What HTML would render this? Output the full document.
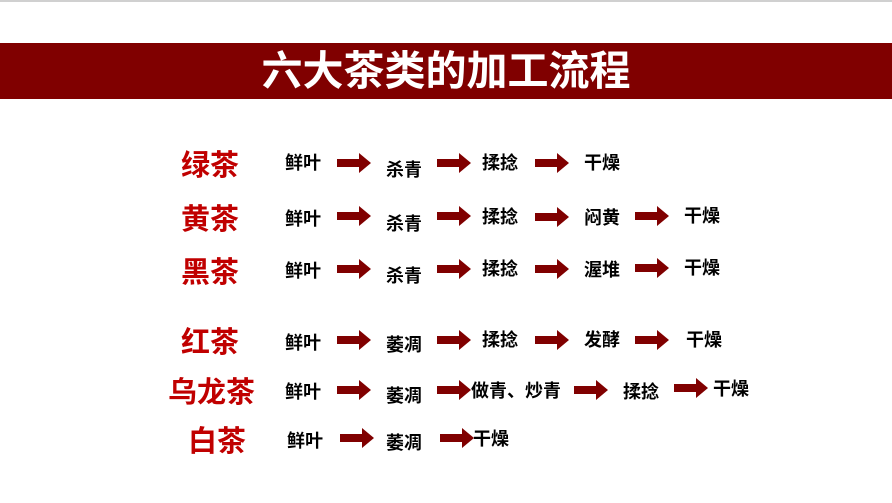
<!DOCTYPE html>
<html><head><meta charset="utf-8"><style>
body{margin:0;width:892px;height:503px;background:#fff;position:relative;overflow:hidden;font-family:"Liberation Sans","Noto Sans CJK SC",sans-serif}
.t{position:absolute;font-size:18px;font-weight:bold;color:#000;line-height:20px;white-space:nowrap}
.h{position:absolute;font-size:29px;font-weight:bold;color:#c00000;line-height:32px;white-space:nowrap}
.a{position:absolute;width:34px;height:20px}
</style></head><body>
<div style="position:absolute;left:0;top:0;width:892px;height:2px;background:#d0d0d0"></div>
<div style="position:absolute;left:0;top:43px;width:892px;height:56px;background:#800000"></div>
<div style="position:absolute;left:0;top:43px;width:892px;height:56px;line-height:56px;text-align:center;color:#fff;font-size:41px;font-weight:bold;letter-spacing:0px;padding-left:insert;box-sizing:border-box">六大茶类的加工流程</div>
<svg width="0" height="0" style="position:absolute"><defs><symbol id="ar" viewBox="0 0 34 20"><polygon points="0,6 22,6 22,0 34,10 22,20 22,14 0,14" fill="#800000"/></symbol></defs></svg>

<div class="h" style="left:181px;top:150px">绿茶</div>
<div class="t" style="left:285px;top:153px">鲜叶</div>
<svg class="a" style="left:337px;top:153px"><use href="#ar"/></svg>
<div class="t" style="left:386px;top:160px">杀青</div>
<svg class="a" style="left:437px;top:153px"><use href="#ar"/></svg>
<div class="t" style="left:482px;top:153px">揉捻</div>
<svg class="a" style="left:535px;top:153px"><use href="#ar"/></svg>
<div class="t" style="left:584px;top:153px">干燥</div>

<div class="h" style="left:181px;top:204px">黄茶</div>
<div class="t" style="left:285px;top:209px">鲜叶</div>
<svg class="a" style="left:337px;top:206px"><use href="#ar"/></svg>
<div class="t" style="left:386px;top:214px">杀青</div>
<svg class="a" style="left:437px;top:206px"><use href="#ar"/></svg>
<div class="t" style="left:482px;top:207px">揉捻</div>
<svg class="a" style="left:535px;top:207px"><use href="#ar"/></svg>
<div class="t" style="left:584px;top:208px">闷黄</div>
<svg class="a" style="left:635px;top:206px"><use href="#ar"/></svg>
<div class="t" style="left:684px;top:206px">干燥</div>

<div class="h" style="left:181px;top:257px">黑茶</div>
<div class="t" style="left:285px;top:261px">鲜叶</div>
<svg class="a" style="left:337px;top:259px"><use href="#ar"/></svg>
<div class="t" style="left:386px;top:266px">杀青</div>
<svg class="a" style="left:437px;top:259px"><use href="#ar"/></svg>
<div class="t" style="left:482px;top:259px">揉捻</div>
<svg class="a" style="left:535px;top:259px"><use href="#ar"/></svg>
<div class="t" style="left:584px;top:260px">渥堆</div>
<svg class="a" style="left:635px;top:258px"><use href="#ar"/></svg>
<div class="t" style="left:684px;top:258px">干燥</div>

<div class="h" style="left:181px;top:327px">红茶</div>
<div class="t" style="left:285px;top:333px">鲜叶</div>
<svg class="a" style="left:337px;top:330px"><use href="#ar"/></svg>
<div class="t" style="left:386px;top:335px">萎凋</div>
<svg class="a" style="left:437px;top:330px"><use href="#ar"/></svg>
<div class="t" style="left:482px;top:330px">揉捻</div>
<svg class="a" style="left:535px;top:330px"><use href="#ar"/></svg>
<div class="t" style="left:584px;top:330px">发酵</div>
<svg class="a" style="left:635px;top:330px"><use href="#ar"/></svg>
<div class="t" style="left:686px;top:330px">干燥</div>

<div class="h" style="left:168px;top:377px">乌龙茶</div>
<div class="t" style="left:285px;top:382px">鲜叶</div>
<svg class="a" style="left:337px;top:380px"><use href="#ar"/></svg>
<div class="t" style="left:386px;top:386px">萎凋</div>
<svg class="a" style="left:437px;top:380px"><use href="#ar"/></svg>
<div class="t" style="left:471px;top:381px">做青、炒青</div>
<svg class="a" style="left:574px;top:380px"><use href="#ar"/></svg>
<div class="t" style="left:623px;top:382px">揉捻</div>
<svg class="a" style="left:674px;top:378px"><use href="#ar"/></svg>
<div class="t" style="left:713px;top:379px">干燥</div>

<div class="h" style="left:188px;top:426px">白茶</div>
<div class="t" style="left:287px;top:431px">鲜叶</div>
<svg class="a" style="left:340px;top:428px"><use href="#ar"/></svg>
<div class="t" style="left:386px;top:433px">萎凋</div>
<svg class="a" style="left:440px;top:428px"><use href="#ar"/></svg>
<div class="t" style="left:473px;top:429px">干燥</div>
</body></html>
